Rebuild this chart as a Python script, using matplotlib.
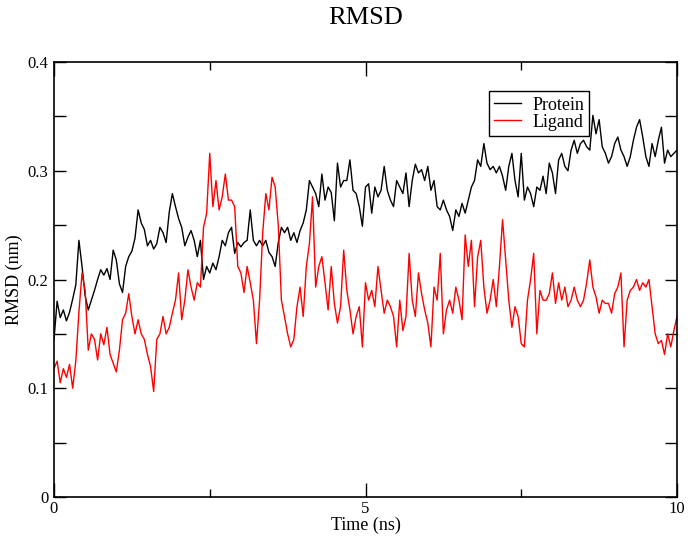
import numpy as np
import matplotlib
matplotlib.use("Agg")
import matplotlib.pyplot as plt
from matplotlib.ticker import MultipleLocator

# RMSD traces, one value every 0.05 ns from 0 to 10 ns
time_ns = np.linspace(0, 10, 201)

protein = [
    0.145, 0.180, 0.165, 0.172, 0.162, 0.170, 0.182, 0.195, 0.236, 0.212,
    0.185, 0.172, 0.181, 0.190, 0.200, 0.209, 0.204, 0.210, 0.200, 0.227,
    0.218, 0.196, 0.188, 0.212, 0.221, 0.226, 0.238, 0.264, 0.252, 0.246,
    0.231, 0.236, 0.228, 0.233, 0.248, 0.243, 0.234, 0.262, 0.279, 0.267,
    0.256, 0.248, 0.231, 0.239, 0.245, 0.236, 0.221, 0.236, 0.200, 0.212,
    0.206, 0.215, 0.209, 0.221, 0.236, 0.231, 0.243, 0.248, 0.224, 0.234,
    0.230, 0.234, 0.236, 0.264, 0.236, 0.231, 0.236, 0.231, 0.236, 0.225,
    0.221, 0.212, 0.234, 0.248, 0.243, 0.248, 0.236, 0.243, 0.234, 0.245,
    0.252, 0.264, 0.291, 0.285, 0.279, 0.267, 0.297, 0.273, 0.285, 0.280,
    0.254, 0.307, 0.285, 0.291, 0.291, 0.310, 0.282, 0.279, 0.267, 0.249,
    0.285, 0.288, 0.261, 0.285, 0.276, 0.282, 0.304, 0.282, 0.273, 0.267,
    0.291, 0.285, 0.279, 0.298, 0.267, 0.291, 0.306, 0.298, 0.301, 0.291,
    0.304, 0.282, 0.291, 0.267, 0.264, 0.273, 0.264, 0.258, 0.245, 0.264,
    0.258, 0.270, 0.261, 0.273, 0.285, 0.291, 0.310, 0.304, 0.325, 0.307,
    0.301, 0.304, 0.298, 0.304, 0.295, 0.282, 0.304, 0.316, 0.291, 0.276,
    0.316, 0.273, 0.285, 0.279, 0.267, 0.285, 0.282, 0.295, 0.279, 0.307,
    0.298, 0.279, 0.310, 0.316, 0.304, 0.300, 0.319, 0.328, 0.316, 0.325,
    0.328, 0.322, 0.319, 0.351, 0.334, 0.347, 0.322, 0.316, 0.307, 0.313,
    0.325, 0.331, 0.319, 0.313, 0.304, 0.313, 0.328, 0.340, 0.347, 0.331,
    0.313, 0.304, 0.325, 0.313, 0.328, 0.340, 0.307, 0.319, 0.313, 0.316,
    0.319,
]

ligand = [
    0.118, 0.125, 0.105, 0.118, 0.110, 0.122, 0.100, 0.125, 0.170, 0.206,
    0.190, 0.135, 0.150, 0.145, 0.126, 0.150, 0.140, 0.156, 0.131, 0.123,
    0.115, 0.135, 0.163, 0.169, 0.187, 0.166, 0.150, 0.163, 0.150, 0.145,
    0.131, 0.120, 0.097, 0.145, 0.150, 0.166, 0.150, 0.156, 0.169, 0.181,
    0.206, 0.163, 0.181, 0.209, 0.193, 0.181, 0.197, 0.193, 0.248, 0.261,
    0.316, 0.267, 0.291, 0.264, 0.276, 0.297, 0.273, 0.273, 0.267, 0.212,
    0.206, 0.188, 0.212, 0.197, 0.181, 0.141, 0.181, 0.243, 0.279, 0.264,
    0.294, 0.285, 0.250, 0.181, 0.166, 0.150, 0.138, 0.145, 0.175, 0.193,
    0.166, 0.212, 0.233, 0.276, 0.193, 0.212, 0.221, 0.197, 0.172, 0.212,
    0.178, 0.160, 0.175, 0.227, 0.190, 0.172, 0.150, 0.166, 0.175, 0.138,
    0.197, 0.181, 0.190, 0.175, 0.212, 0.190, 0.169, 0.181, 0.175, 0.166,
    0.138, 0.181, 0.153, 0.166, 0.224, 0.181, 0.166, 0.206, 0.187, 0.172,
    0.160, 0.138, 0.193, 0.181, 0.224, 0.150, 0.172, 0.181, 0.169, 0.193,
    0.181, 0.163, 0.241, 0.212, 0.236, 0.175, 0.221, 0.236, 0.193, 0.169,
    0.181, 0.200, 0.175, 0.212, 0.255, 0.218, 0.181, 0.156, 0.175, 0.166,
    0.141, 0.138, 0.181, 0.200, 0.224, 0.150, 0.190, 0.181, 0.181, 0.187,
    0.206, 0.178, 0.197, 0.181, 0.193, 0.175, 0.181, 0.193, 0.181, 0.175,
    0.181, 0.197, 0.218, 0.193, 0.184, 0.169, 0.181, 0.178, 0.178, 0.169,
    0.187, 0.193, 0.206, 0.138, 0.181, 0.190, 0.193, 0.200, 0.190, 0.197,
    0.193, 0.200, 0.175, 0.150, 0.141, 0.144, 0.131, 0.150, 0.138, 0.153,
    0.166,
]

yticks = [0, 0.1, 0.2, 0.3, 0.4]
ytick_labels = ["0", "0.1", "0.2", "0.3", "0.4"]

plt.rcParams["font.family"] = ["Liberation Serif", "DejaVu Serif"]

fig = plt.figure(figsize=(6.88, 5.39), dpi=100)
ax = fig.add_axes([54 / 688, 42 / 539, 623 / 688, 435 / 539])

ax.plot(time_ns, protein, color="black", lw=1.0, label="Protein")
ax.plot(time_ns, ligand, color="red", lw=1.0, label="Ligand")

ax.set_xlim(0, 10)
ax.set_ylim(0, 0.4)
ax.xaxis.set_major_locator(MultipleLocator(5))
ax.xaxis.set_minor_locator(MultipleLocator(2.5))
ax.set_yticks(yticks)
ax.set_yticklabels(ytick_labels)
ax.yaxis.set_minor_locator(MultipleLocator(0.05))

ax.tick_params(which="both", direction="in", top=True, right=True,
               labelsize=12, width=1)
ax.tick_params(axis="x", which="major", length=10, pad=3)
ax.tick_params(axis="x", which="minor", length=5.5)
ax.tick_params(axis="y", which="both", length=8.5, pad=4)
for s in ax.spines.values():
    s.set_linewidth(1.2)

ax.set_xlabel("Time (ns)", fontsize=13, labelpad=0)
ax.set_ylabel("RMSD (nm)", fontsize=13, labelpad=3)
fig.text(366 / 688, 1 - 18 / 539, "RMSD", ha="center", va="center", fontsize=19)

leg = ax.legend(loc="upper left", bbox_to_anchor=(0.698, 0.933), fontsize=13,
                fancybox=False, framealpha=1, edgecolor="black",
                handlelength=1.5, borderpad=0.3, labelspacing=0.0,
                handletextpad=0.6, borderaxespad=0)
leg.get_frame().set_linewidth(1.0)

fig.savefig("out.png", dpi=100)
